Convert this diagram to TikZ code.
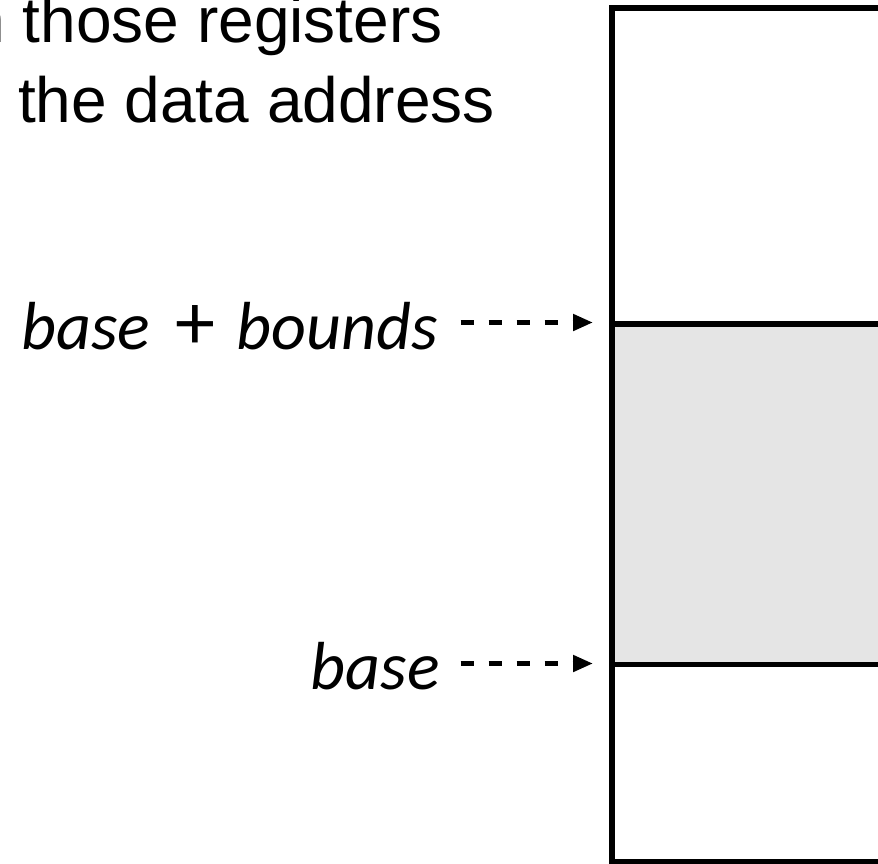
\documentclass[tikz,border=0pt]{standalone}
\usepackage{fontspec}
\setmainfont{Liberation Sans}
\newfontfamily\labfont{Carlito}
\usetikzlibrary{arrows.meta}
\definecolor{memgray}{RGB}{229,229,229}
\tikzset{
  toptext/.style={inner sep=0pt, anchor=base east, font=\fontsize{64}{64}\selectfont},
  addrlabel/.style={inner sep=0pt, anchor=base east, font=\labfont\itshape\fontsize{68}{68}\selectfont},
  ptr/.style={line width=4.8pt, dash pattern=on 13.3pt off 14.7pt, -{Triangle[length=20pt,width=16pt]}},
  memline/.style={line width=5.5pt}
}
\begin{document}
\begin{tikzpicture}[x=1pt,y=-1pt]
\useasboundingbox (0,0) rectangle (878,864);
\clip (0,0) rectangle (878,864);
% memory region
\fill[memgray] (612,324) rectangle (900,664.5);
\draw[memline] (900,8) -- (612,8) -- (612,861.5) -- (900,861.5);
\draw[memline] (612,324) -- (900,324);
\draw[memline] (612,664.5) -- (900,664.5);
% top text
\node[toptext] (t1) at (443,43) {in those registers};
\node[toptext] (t2) at (495,123) {the data address};
% labels
\node[addrlabel] (bb) at (438,349) {base\hspace{10pt} {\upshape\fontsize{80}{80}\selectfont+} \hspace{6pt}bounds};
\node[addrlabel] (b) at (440,689) {base};
\coordinate (bbs) at (460.7,322.5);
\coordinate (bbe) at (593,322.5);
\coordinate (bs) at (460.7,663.5);
\coordinate (be) at (593,663.5);
\draw[ptr] (bbs) -- (bbe);
\draw[ptr] (bs) -- (be);
\end{tikzpicture}
\end{document}
